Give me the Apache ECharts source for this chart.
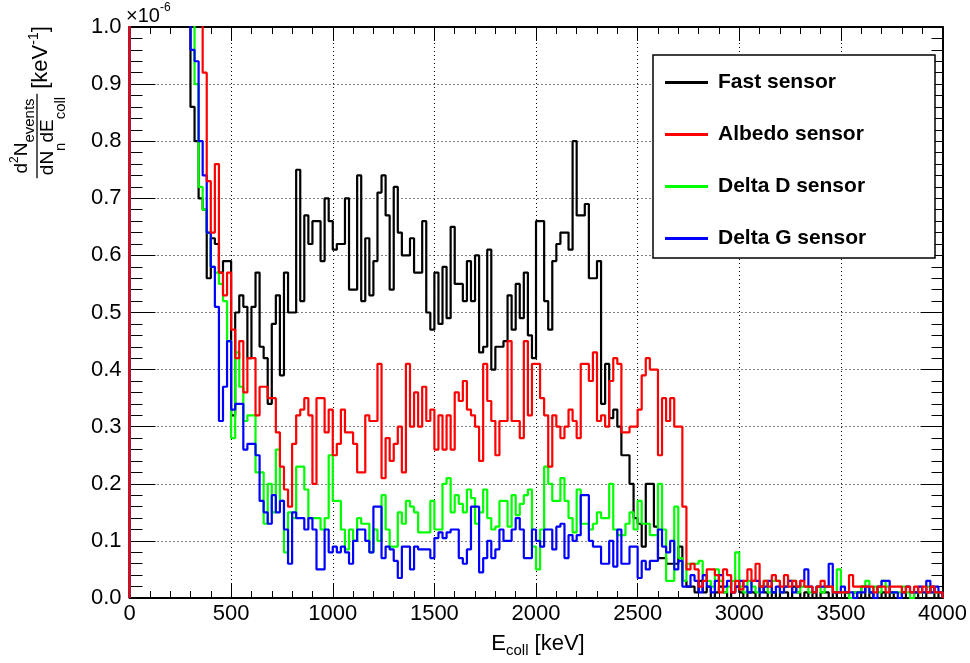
<!DOCTYPE html>
<html>
<head>
<meta charset="utf-8">
<script src="https://cdn.jsdelivr.net/npm/echarts@6/dist/echarts.min.js"></script>
<style>
  html, body { margin: 0; padding: 0; background: #fff; }
  #chart { width: 970px; height: 663px; }
</style>
</head>
<body>
<div id="chart"></div>
<script>
// Collected-energy spectra, 20 keV bins from 0 to 4000 keV, in units of 1e-6 keV^-1
const binWidth = 20;
const seriesNames = ['Fast sensor', 'Albedo sensor', 'Delta D sensor', 'Delta G sensor'];
const seriesColors = ['#000000', '#ff0000', '#00ff00', '#0000ff'];

const fastSensor = [
  4.2,3.9,3.6,3.3,3.0,2.7,2.4,2.2,2.0,1.8,1.6,1.45,1.3,1.15,1.05,
  0.86,0.80,0.70,0.68,0.56,0.63,0.62,0.57,0.59,0.59,
  0.32,0.50,0.53,0.51,0.42,0.51,0.57,0.44,0.42,0.34,
  0.48,0.53,0.39,0.57,0.50,0.50,0.75,0.52,0.67,0.62,
  0.66,0.66,0.59,0.70,0.66,0.61,0.62,0.62,0.70,0.54,
  0.54,0.74,0.52,0.63,0.53,0.59,0.71,0.74,0.67,0.54,
  0.72,0.64,0.60,0.60,0.63,0.57,0.57,0.66,0.50,0.47,
  0.57,0.48,0.58,0.49,0.65,0.55,0.55,0.52,0.59,0.52,
  0.60,0.43,0.44,0.61,0.40,0.44,0.44,0.45,0.53,0.47,
  0.55,0.49,0.57,0.46,0.42,0.66,0.66,0.52,0.47,0.59,
  0.62,0.64,0.64,0.61,0.80,0.67,0.67,0.69,0.56,0.56,
  0.59,0.34,0.41,0.315,0.33,0.30,0.25,0.25,0.20,0.14,
  0.13,0.09,0.20,0.20,0.125,0.07,0.07,0.06,0.06,0.06,
  0.09,0.03,
  0.02,0.02,0.01,0.03,0.01,0.02,0.00,0.01,0.02,0.01,
  0.00,0.01,0.02,0.01,0.00,0.01,0.01,0.00,0.02,0.01,
  0.00,0.01,0.00,0.01,0.01,0.00,0.02,0.01,0.00,0.01,
  0.00,0.01,0.00,0.01,0.01,0.00,0.01,0.00,0.00,0.01,
  0.00,0.01,0.00,0.02,0.00,0.01,0.00,0.00,0.01,0.00,
  0.01,0.00,0.00,0.01,0.00,0.00,0.01,0.00,0.00,0.01,
  0.02,0.00,0.01
];

const albedoSensor = [
  4.6,4.3,4.0,3.7,3.4,3.1,2.8,2.6,2.4,2.2,2.0,1.85,1.7,1.55,1.4,1.3,1.2,1.1,
  0.92,0.73,0.64,0.76,0.57,0.53,0.57,0.47,0.42,0.45,
  0.36,0.42,0.42,0.32,0.37,0.37,0.35,0.35,0.29,0.23,
  0.19,0.16,0.27,0.32,0.33,0.35,0.32,0.20,0.35,0.35,
  0.29,0.33,0.25,0.27,0.33,0.29,0.29,0.27,0.22,0.22,
  0.32,0.31,0.31,0.41,0.21,0.28,0.24,0.27,0.30,0.22,
  0.41,0.30,0.36,0.30,0.37,0.31,0.33,0.26,0.32,0.26,
  0.32,0.26,0.36,0.345,0.38,0.33,0.32,0.30,0.24,0.41,
  0.345,0.31,0.25,0.31,0.31,0.45,0.31,0.31,0.28,0.45,
  0.32,0.41,0.41,0.35,0.32,0.23,0.32,0.30,0.28,0.30,
  0.33,0.31,0.28,0.41,0.41,0.38,0.43,0.31,0.32,0.30,
  0.38,0.42,0.41,0.29,0.29,0.30,0.30,0.33,0.39,0.42,
  0.40,0.40,0.25,0.35,0.31,0.35,0.30,0.30,0.16,0.05,
  0.06,0.05,0.02,0.03,0.05,0.05,0.04,0.01,0.05,0.04,
  0.01,0.03,0.015,0.03,0.05,0.03,0.06,0.02,0.03,0.02,
  0.04,0.03,0.02,0.04,0.02,0.03,0.02,0.03,0.02,0.02,
  0.01,0.02,0.03,0.02,0.02,0.01,0.01,0.01,0.01,0.04,
  0.02,0.02,0.02,0.02,0.02,0.01,0.02,0.02,0.01,0.02,
  0.02,0.02,0.01,0.02,0.01,0.02,0.01,0.02,0.01,0.02,
  0.01,0.01
];

const deltaDSensor = [
  4.4,4.1,3.8,3.5,3.2,2.9,2.7,2.5,2.3,2.1,1.9,1.7,1.5,1.35,1.2,1.05,
  0.90,0.72,0.68,0.64,0.58,0.57,0.55,0.52,0.45,0.28,
  0.43,0.37,0.31,0.32,0.32,0.22,0.22,0.13,0.20,0.15,
  0.26,0.17,0.08,0.15,0.14,0.23,0.23,0.19,0.14,0.14,
  0.14,0.12,0.14,0.25,0.17,0.17,0.12,0.085,0.12,0.10,
  0.14,0.13,0.13,0.08,0.12,0.10,0.18,0.12,0.09,0.09,
  0.15,0.13,0.17,0.16,0.15,0.115,0.115,0.115,0.17,0.12,
  0.12,0.20,0.21,0.15,0.18,0.165,0.15,0.19,0.175,0.13,
  0.15,0.19,0.14,0.12,0.125,0.17,0.17,0.125,0.18,0.145,
  0.165,0.18,0.19,0.09,0.05,0.12,0.23,0.20,0.17,0.17,
  0.21,0.17,0.14,0.115,0.19,0.13,0.13,0.12,0.13,0.15,
  0.14,0.14,0.20,0.12,0.11,0.11,0.13,0.15,0.12,0.17,
  0.13,0.13,0.11,0.11,0.20,0.12,0.03,0.03,0.16,0.07,
  0.03,0.06,0.06,0.06,0.065,0.04,0.03,0.02,0.05,0.03,
  0.01,0.02,0.03,0.08,0.02,0.01,0.03,0.02,0.01,0.02,
  0.03,0.01,0.03,0.03,0.01,0.02,0.03,0.03,0.01,0.02,
  0.02,0.01,0.01,0.02,0.01,0.02,0.02,0.01,0.05,0.01,
  0.01,0.00,0.01,0.01,0.02,0.03,0.01,0.02,0.01,0.03,
  0.02,0.01,0.01,0.01,0.02,0.01,0.00,0.01,0.01,0.01,
  0.02,0.01,0.01,0.01
];

const deltaGSensor = [
  4.0,3.7,3.4,3.1,2.8,2.5,2.3,2.1,1.9,1.7,1.5,1.35,1.2,1.1,1.02,
  0.96,0.94,0.80,0.74,0.64,0.58,0.51,0.31,0.37,0.45,
  0.33,0.34,0.34,0.26,0.27,0.27,0.25,0.17,0.15,0.13,
  0.18,0.15,0.17,0.12,0.06,0.15,0.14,0.14,0.12,0.14,
  0.12,0.05,0.05,0.12,0.08,0.09,0.08,0.09,0.08,0.06,
  0.10,0.12,0.12,0.10,0.08,0.16,0.16,0.07,0.09,0.085,
  0.065,0.035,0.09,0.09,0.05,0.09,0.085,0.085,0.085,0.07,
  0.105,0.115,0.105,0.115,0.12,0.12,0.07,0.06,0.085,0.16,
  0.16,0.045,0.07,0.10,0.07,0.085,0.12,0.10,0.10,0.12,
  0.14,0.12,0.07,0.07,0.12,0.10,0.09,0.12,0.12,0.085,
  0.125,0.13,0.07,0.11,0.10,0.11,0.18,0.18,0.10,0.09,
  0.09,0.06,0.06,0.10,0.055,0.12,0.06,0.06,0.09,0.09,
  0.035,0.065,0.05,0.065,0.065,0.12,0.09,0.08,0.10,0.05,
  0.065,0.02,0.02,0.04,0.03,0.01,0.04,0.02,0.01,0.03,
  0.04,0.02,0.03,0.01,0.02,0.03,0.02,0.01,0.03,0.03,
  0.01,0.02,0.03,0.01,0.02,0.01,0.02,0.03,0.01,0.02,
  0.03,0.05,0.02,0.01,0.02,0.02,0.02,0.06,0.01,0.01,
  0.02,0.01,0.01,0.00,0.01,0.01,0.02,0.01,0.00,0.02,
  0.03,0.03,0.01,0.01,0.00,0.01,0.02,0.01,0.01,0.02,
  0.01,0.03,0.01,0.02,0.01
];

const seriesValues = [fastSensor, albedoSensor, deltaDSensor, deltaGSensor];
// drawing order: the albedo outline is painted last, on top of the others
const drawOrder = [0, 2, 3, 1];

// histogram outline: rises from zero at the low edge, one step per bin, back to zero at the high edge
function histogramPoints(values) {
  const pts = [[0, 0]];
  values.forEach((v, i) => pts.push([i * binWidth, v]));
  pts.push([values.length * binWidth, 0]);
  return pts;
}

const FONT = 'Liberation Sans';
const measureCtx = document.createElement('canvas').getContext('2d');
function textWidth(t, size) {
  measureCtx.font = size + 'px "' + FONT + '"';
  return measureCtx.measureText(t).width;
}
function runsWidth(runs) {
  return runs.reduce((s, r) => s + textWidth(r.t, r.size), 0);
}
// Horizontal formula: text runs sharing one baseline, `shift` lowers (+) or raises (-) a run
function formulaRuns(runs, start, baseline) {
  const els = [];
  let pos = 0;
  runs.forEach(r => {
    els.push({
      type: 'text', z: 20, x: start + pos, y: baseline + (r.shift || 0) - 0.31 * r.size,
      style: { text: r.t, fill: '#000', fontSize: r.size, fontFamily: FONT, align: 'left', verticalAlign: 'middle' }
    });
    pos += textWidth(r.t, r.size);
  });
  return els;
}

const xTitle = [{ t: 'E', size: 22 }, { t: 'coll', size: 15, shift: 5 }, { t: ' [keV]', size: 22 }];
const scaleNote = [{ t: '\u00d710', size: 20 }, { t: '-6', size: 12, shift: -12 }];
const xTitleW = runsWidth(xTitle);

// y title: a fraction built as three rich-text lines (numerator, rule, denominator)
const numW = runsWidth([{ t: 'dN', size: 19 }, { t: '2', size: 12 }, { t: 'events', size: 15 }]);
const denW = runsWidth([{ t: 'dNdE', size: 19 }, { t: 'ncoll', size: 15 }]);
const ruleW = Math.max(numW, denW) + 6;
const numLine = 28.35, denLine = 31;
const fractionRich = {
  nm: { fontSize: 19, fontFamily: FONT, color: '#000', verticalAlign: 'top', lineHeight: numLine, padding: [4.1, 0, 0, 0] },
  np: { fontSize: 12, fontFamily: FONT, color: '#000', verticalAlign: 'top', lineHeight: numLine, padding: [0.8, 0, 0, 0] },
  nb: { fontSize: 15, fontFamily: FONT, color: '#000', verticalAlign: 'top', lineHeight: numLine, padding: [14.35, 0, 0, 0] },
  rule: { fontSize: 1, width: ruleW, height: 1.3, lineHeight: 1.3, backgroundColor: '#000' },
  dm: { fontSize: 19, fontFamily: FONT, color: '#000', verticalAlign: 'top', lineHeight: denLine, padding: [0.45, 0, 0, 0] },
  db: { fontSize: 15, fontFamily: FONT, color: '#000', verticalAlign: 'top', lineHeight: denLine, padding: [15.7, 0, 0, 0] }
};
const fractionText = '{nm|d}{np|2}{nm|N}{nb|events}\n{rule| }\n{dm|dN}{db|n}{dm|dE}{db|coll}';
const unitRich = {
  um: { fontSize: 22, fontFamily: FONT, color: '#000', verticalAlign: 'top', lineHeight: 27, padding: [4.2, 0, 0, 0] },
  up: { fontSize: 14, fontFamily: FONT, color: '#000', verticalAlign: 'top', lineHeight: 27, padding: [1.66, 0, 0, 0] }
};
const unitText = '{um|[keV}{up|-1}{um|]}';
const axisMid = (27 + 598) / 2;

const chart = echarts.init(document.getElementById('chart'), null, { renderer: 'canvas' });

const dotted = { color: '#000', width: 1, type: [1, 3] };
const frameLine = { show: true, onZero: false, lineStyle: { color: '#000', width: 2 } };

const series = drawOrder.map((k, n) => ({
  name: seriesNames[k],
  type: 'line',
  step: 'end',
  data: histogramPoints(seriesValues[k]),
  showSymbol: false,
  symbol: 'none',
  clip: true,
  z: 2 + n,
  lineStyle: { color: seriesColors[k], width: 2.2 },
  itemStyle: { color: seriesColors[k] },
  animation: false
}));

const option = {
  animation: false,
  backgroundColor: '#fff',
  grid: { left: 128, right: 27, top: 27, bottom: 65, containLabel: false },
  xAxis: [
    {
      type: 'value', min: 0, max: 4000, interval: 500, position: 'bottom',
      axisLine: frameLine,
      axisTick: { show: true, inside: true, length: 14, lineStyle: { color: '#000', width: 1 } },
      minorTick: { show: true, splitNumber: 5, length: 7, lineStyle: { color: '#000', width: 1 } },
      splitLine: { show: true, lineStyle: dotted },
      axisLabel: { show: true, margin: 5, color: '#000', fontSize: 22, fontFamily: FONT,
                   showMaxLabel: true, formatter: v => String(v) }
    },
    {
      type: 'value', min: 0, max: 4000, interval: 500, position: 'top',
      axisLine: frameLine,
      axisTick: { show: true, inside: true, length: 14, lineStyle: { color: '#000', width: 1 } },
      minorTick: { show: true, splitNumber: 5, length: 7, lineStyle: { color: '#000', width: 1 } },
      splitLine: { show: false },
      axisLabel: { show: false }
    }
  ],
  yAxis: [
    {
      type: 'value', min: 0, max: 1, interval: 0.1, position: 'left',
      axisLine: frameLine,
      axisTick: { show: true, inside: true, length: 26, lineStyle: { color: '#000', width: 1 } },
      minorTick: { show: true, splitNumber: 5, length: 13, lineStyle: { color: '#000', width: 1 } },
      splitLine: { show: true, lineStyle: dotted },
      axisLabel: { show: true, margin: 8, color: '#000', fontSize: 22, fontFamily: FONT,
                   formatter: v => v.toFixed(1) },
      name: fractionText,
      nameLocation: 'middle',
      nameRotate: 90,
      nameGap: 60.85,
      nameMoveOverlap: false,
      nameTextStyle: { rich: fractionRich, padding: [0, 0, 0, 2 * (axisMid - 136)] }
    },
    {
      type: 'value', min: 0, max: 1, interval: 0.1, position: 'right',
      axisLine: frameLine,
      axisTick: { show: true, inside: true, length: 22, lineStyle: { color: '#000', width: 1 } },
      minorTick: { show: true, splitNumber: 5, length: 11, lineStyle: { color: '#000', width: 1 } },
      splitLine: { show: false },
      axisLabel: { show: false }
    },
    {
      // carries only the unit of the y title
      type: 'value', min: 0, max: 1, position: 'left', offset: 0,
      axisLine: { show: false }, axisTick: { show: false }, axisLabel: { show: false }, splitLine: { show: false },
      name: unitText,
      nameLocation: 'middle',
      nameRotate: 90,
      nameGap: 77,
      nameMoveOverlap: false,
      nameTextStyle: { rich: unitRich, padding: [0, 0, 0, 2 * (axisMid - 57.5)] }
    }
  ],
  legend: {
    orient: 'vertical',
    left: 665, top: 72,
    padding: 0,
    itemGap: 31,
    itemWidth: 43, itemHeight: 3,
    icon: 'rect',
    data: seriesNames,
    textStyle: { color: '#000', fontSize: 21, fontWeight: 'bold', fontFamily: FONT, padding: [0, 0, 0, 5] },
    z: 10
  },
  graphic: [
    // legend frame
    { type: 'rect', z: 5, shape: { x: 653, y: 55, width: 282, height: 203 },
      style: { fill: '#fff', stroke: '#000', lineWidth: 1.5 } }
  ].concat(
    formulaRuns(xTitle, 538 - xTitleW / 2, 651),
    formulaRuns(scaleNote, 126, 23)
  ),
  series: series
};

chart.setOption(option);
</script>
</body>
</html>
